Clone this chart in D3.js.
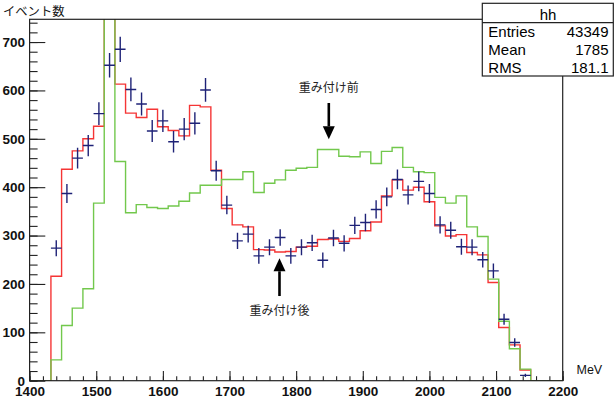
<!DOCTYPE html>
<html>
<head>
<meta charset="utf-8">
<script src="https://cdn.jsdelivr.net/npm/d3@7"></script>
<style>
  body { margin: 0; background: #fff; }
  svg { display: block; }
</style>
</head>
<body>
<div class="canvas"></div>
<script>
// binning of the histograms: 50 bins of 16 MeV between 1400 and 2200
const xMin = 1400, xMax = 2200, nBins = 50;
const yMax = 747;

// red histogram (after weighting), one value per bin
const weighted = [0, 0, 216, 437, 475, 500, 526, 780, 613, 553,
  544, 561, 525, 517, 506, 569, 566, 435, 356, 322,
  318, 271, 270, 266, 267, 276, 278, 292, 293, 288,
  294, 310, 328, 382, 415, 394, 400, 370, 320, 299,
  302, 265, 260, 203, 110, 74, 22, 0, 0, 0];

// green histogram (before weighting)
const unweighted = [0, 0, 43, 114, 150, 190, 367, 1100, 453, 347,
  364, 358, 356, 361, 371, 388, 404, 404, 416, 416,
  432, 389, 408, 415, 435, 439, 441, 478, 478, 464,
  463, 473, 449, 474, 482, 441, 432, 430, 379, 367,
  382, 318, 298, 210, 123, 66, 24, 0, 0, 0];

// measured points (blue crosses), null = empty bin
const measured = [null, null, 274, 387, 460, 486, 552, 652, 685, 602,
  572, 516, 537, 494, 520, 532, 601, 434, 363, 289,
  303, 258, 276, 296, 258, 276, 285, 249, 295, 284,
  321, 327, 354, 380, 416, 384, 412, 387, 322, 311,
  277, 276, 250, 227, 127, 79, 11, null, null, null];

const xMajorTicks = [1400, 1500, 1600, 1700, 1800, 1900, 2000, 2100, 2200];
const yMajorTicks = [0, 100, 200, 300, 400, 500, 600, 700];

// stats box lines
const statsTitle = "hh";
const statsRows = [["Entries", "43349"], ["Mean", "1785"], ["RMS", "181.1"]];

// annotations: text, arrow x (MeV), tail and tip (counts), text y (counts)
const notes = [
  {text: "重み付け前", x: 1849, tail: 574, tip: 499, textY: 605},
  {text: "重み付け後", x: 1775, tail: 175, tip: 253, textY: 144}
];

const svgWidth = 614, svgHeight = 406;
const frame = {left: 29.6, right: 562.7, top: 19.3, bottom: 380.7};

const svg = d3.select('.canvas').append('svg')
  .attr('width', svgWidth)
  .attr('height', svgHeight);

const x = d3.scaleLinear().domain([xMin, xMax]).range([frame.left, frame.right]);
const y = d3.scaleLinear().domain([0, yMax]).range([frame.bottom, frame.top]);
const edges = d3.range(nBins + 1).map(i => xMin + i * (xMax - xMin) / nBins);

svg.append('clipPath').attr('id', 'plotclip')
  .append('rect')
    .attr('x', frame.left).attr('y', frame.top)
    .attr('width', frame.right - frame.left)
    .attr('height', frame.bottom - frame.top);

const plot = svg.append('g').attr('clip-path', 'url(#plotclip)');

// outline of a histogram as a list of [x, y] data points
function stepPoints(vals) {
  const pts = [[edges[0], 0]];
  vals.forEach((v, i) => {
    pts.push([edges[i], v]);
    pts.push([edges[i + 1], v]);
  });
  pts.push([edges[nBins], 0]);
  return pts;
}
const line = d3.line().x(d => x(d[0])).y(d => y(d[1]));

plot.append('path')
  .attr('d', line(stepPoints(weighted)))
  .attr('fill', 'none')
  .attr('stroke', '#f53535')
  .attr('stroke-width', 1.4);

plot.append('path')
  .attr('d', line(stepPoints(unweighted)))
  .attr('fill', 'none')
  .attr('stroke', '#72c84c')
  .attr('stroke-width', 1.4);

// crosses: horizontal = bin width, vertical = sqrt(N)
const pts = measured.map((v, i) => ({v: v, lo: edges[i], hi: edges[i + 1]})).filter(d => d.v !== null);
const cross = plot.append('g').attr('stroke', '#1e2277').attr('stroke-width', 1.4);
cross.selectAll('.hbar').data(pts).enter().append('line')
  .attr('x1', d => x(d.lo)).attr('x2', d => x(d.hi))
  .attr('y1', d => y(d.v)).attr('y2', d => y(d.v));
cross.selectAll('.vbar').data(pts).enter().append('line')
  .attr('x1', d => x((d.lo + d.hi) / 2)).attr('x2', d => x((d.lo + d.hi) / 2))
  .attr('y1', d => y(d.v - Math.sqrt(d.v))).attr('y2', d => y(d.v + Math.sqrt(d.v)));

// frame
svg.append('rect')
  .attr('x', frame.left).attr('y', frame.top)
  .attr('width', frame.right - frame.left)
  .attr('height', frame.bottom - frame.top)
  .attr('fill', 'none')
  .attr('stroke', '#222')
  .attr('stroke-width', 1.2);

// x axis: minor ticks every 20, major every 100, ticks point inside
const xAxisMinor = svg.append('g').attr('transform', `translate(0,${frame.bottom})`)
  .call(d3.axisBottom(x).tickValues(d3.range(1400, 2201, 20)).tickSize(-4.5).tickFormat(''));
const xAxis = svg.append('g').attr('transform', `translate(0,${frame.bottom})`)
  .call(d3.axisBottom(x).tickValues(xMajorTicks).tickSize(-9.7).tickFormat(d3.format('d')));
xAxis.selectAll('text').attr('y', 15.3).attr('dy', null);

const yAxisMinor = svg.append('g').attr('transform', `translate(${frame.left},0)`)
  .call(d3.axisLeft(y).tickValues(d3.range(0, 741, 20)).tickSize(-8).tickFormat(''));
const yAxis = svg.append('g').attr('transform', `translate(${frame.left},0)`)
  .call(d3.axisLeft(y).tickValues(yMajorTicks).tickSize(-15.7).tickPadding(4.6).tickFormat(d3.format('d')));

[xAxisMinor, xAxis, yAxisMinor, yAxis].forEach(g => {
  g.select('.domain').remove();
  g.selectAll('line').attr('stroke', '#222').attr('stroke-width', 1.1);
  g.selectAll('text')
    .attr('fill', '#111')
    .style('font-family', '"Liberation Sans", Arial, sans-serif')
    .style('font-weight', 'bold')
    .style('font-size', '13.5px');
});

// axis titles
svg.append('text')
  .attr('x', 3).attr('y', 15.5)
  .style('font-family', '"Noto Sans CJK JP", sans-serif')
  .style('font-size', '12.3px')
  .attr('fill', '#111')
  .text('イベント数');

svg.append('text')
  .attr('x', 576.5).attr('y', 374)
  .style('font-family', '"Liberation Sans", Arial, sans-serif')
  .style('font-size', '12.5px')
  .attr('fill', '#111')
  .text('MeV');

// annotations with arrows
notes.forEach(n => {
  const ax = x(n.x), yTail = y(n.tail), yTip = y(n.tip);
  const dir = yTip > yTail ? 1 : -1;
  const headLen = 13, headHalf = 6;
  svg.append('line')
    .attr('x1', ax).attr('x2', ax)
    .attr('y1', yTail).attr('y2', yTip - dir * headLen)
    .attr('stroke', '#000').attr('stroke-width', 2.6);
  svg.append('path')
    .attr('d', `M${ax},${yTip} L${ax - headHalf},${yTip - dir * headLen} L${ax + headHalf},${yTip - dir * headLen} Z`)
    .attr('fill', '#000');
  svg.append('text')
    .attr('x', ax).attr('y', y(n.textY))
    .attr('dy', '0.36em')
    .attr('text-anchor', 'middle')
    .style('font-family', '"Noto Sans CJK JP", sans-serif')
    .style('font-size', '12px')
    .attr('fill', '#222')
    .text(n.text);
});

// stats box
const stats = svg.append('g');
stats.append('rect')
  .attr('x', 482.3).attr('y', 3.3)
  .attr('width', 131).attr('height', 72.7)
  .attr('fill', '#fff')
  .attr('stroke', '#222')
  .attr('stroke-width', 1.2);
stats.append('line')
  .attr('x1', 482.3).attr('x2', 613.3)
  .attr('y1', 22.7).attr('y2', 22.7)
  .attr('stroke', '#222').attr('stroke-width', 1.2);
stats.append('text')
  .attr('x', 548).attr('y', 19.5)
  .attr('text-anchor', 'middle')
  .style('font-family', '"Liberation Sans", Arial, sans-serif')
  .style('font-size', '15px')
  .text(statsTitle);
statsRows.forEach((r, i) => {
  const by = 36.5 + i * 18.3;
  stats.append('text')
    .attr('x', 488.3).attr('y', by)
    .style('font-family', '"Liberation Sans", Arial, sans-serif')
    .style('font-size', '15px')
    .text(r[0]);
  stats.append('text')
    .attr('x', 608.5).attr('y', by)
    .attr('text-anchor', 'end')
    .style('font-family', '"Liberation Sans", Arial, sans-serif')
    .style('font-size', '15px')
    .text(r[1]);
});
</script>
</body>
</html>
